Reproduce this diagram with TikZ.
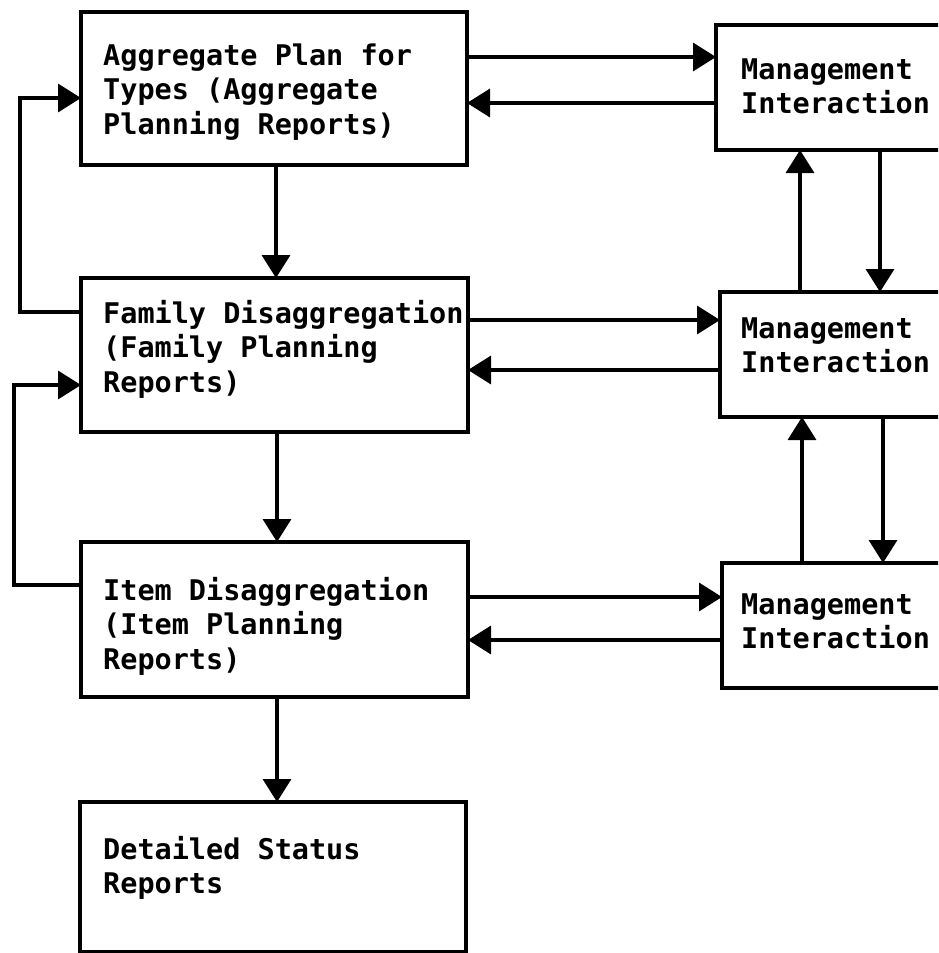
\documentclass[tikz,border=0pt]{standalone}
\usepackage{fontspec}
\newfontfamily\lblfont{DejaVu Sans Mono}
\protected\def\lblfmt{\lblfont\bfseries\fontsize{28.5}{34.5}\selectfont}
\protected\def\lblspace{\spaceskip=17.16pt\relax\xspaceskip=17.16pt\relax}
\usetikzlibrary{arrows.meta}
\begin{document}
\begin{tikzpicture}[x=1pt,y=-1pt,
  box/.style={draw, line width=3.5pt, rectangle, inner sep=0pt, outer sep=0pt, anchor=north west},
  lbl/.style={anchor=base west, inner sep=0pt, text width=400pt, align=left, font=\lblfmt,
    execute at begin node=\lblspace},
  arr/.style={line width=3.5pt, -{Triangle[length=23pt,width=28pt]}}]
\useasboundingbox (0,0) rectangle (938,953);
\clip (0,0) rectangle (938,953);
% left boxes
\node[box, minimum width=386pt, minimum height=153pt] (A) at (81,12) {};
\node[box, minimum width=387pt, minimum height=154pt] (B) at (81,278) {};
\node[box, minimum width=387pt, minimum height=155pt] (C) at (81,542) {};
\node[box, minimum width=386pt, minimum height=150pt] (D) at (80,802) {};
% right boxes
\node[box, minimum width=260pt, minimum height=125pt] (M1) at (716,25) {};
\node[box, minimum width=260pt, minimum height=125pt] (M2) at (720,292) {};
\node[box, minimum width=260pt, minimum height=125pt] (M3) at (722,563) {};
% labels
\node[lbl] (tA) at (103,65) {Aggregate Plan for\\Types (Aggregate\\Planning Reports)};
\node[lbl] (tB) at (103,323) {Family Disaggregation\\(Family Planning\\Reports)};
\node[lbl] (tC) at (103,600) {Item Disaggregation\\(Item Planning\\Reports)};
\node[lbl] (tD) at (103,859) {Detailed Status\\Reports};
\node[lbl] (t1) at (741,79) {Management\\Interaction};
\node[lbl] (t2) at (741,338) {Management\\Interaction};
\node[lbl] (t3) at (741,614) {Management\\Interaction};
% horizontal connectors
\draw[arr] (A.east |- 0,57) -- (M1.west |- 0,57);
\draw[arr] (M1.west |- 0,103) -- (A.east |- 0,103);
\draw[arr] (B.east |- 0,320) -- (M2.west |- 0,320);
\draw[arr] (M2.west |- 0,370) -- (B.east |- 0,370);
\draw[arr] (C.east |- 0,597) -- (M3.west |- 0,597);
\draw[arr] (M3.west |- 0,640) -- (C.east |- 0,640);
% vertical connectors, left column
\draw[arr] (A.south -| 276,0) -- (B.north -| 276,0);
\draw[arr] (B.south -| 277,0) -- (C.north -| 277,0);
\draw[arr] (C.south -| 277,0) -- (D.north -| 277,0);
% vertical connectors, right column
\draw[arr] (M2.north -| 800,0) -- (M1.south -| 800,0);
\draw[arr] (M1.south -| 880,0) -- (M2.north -| 880,0);
\draw[arr] (M3.north -| 802,0) -- (M2.south -| 802,0);
\draw[arr] (M2.south -| 883,0) -- (M3.north -| 883,0);
% feedback loops
\draw[arr] (B.west |- 0,312) -- (20,312) -- (20,98) -- (A.west |- 0,98);
\draw[arr] (C.west |- 0,585) -- (14,585) -- (14,385) -- (B.west |- 0,385);
\end{tikzpicture}
\end{document}
